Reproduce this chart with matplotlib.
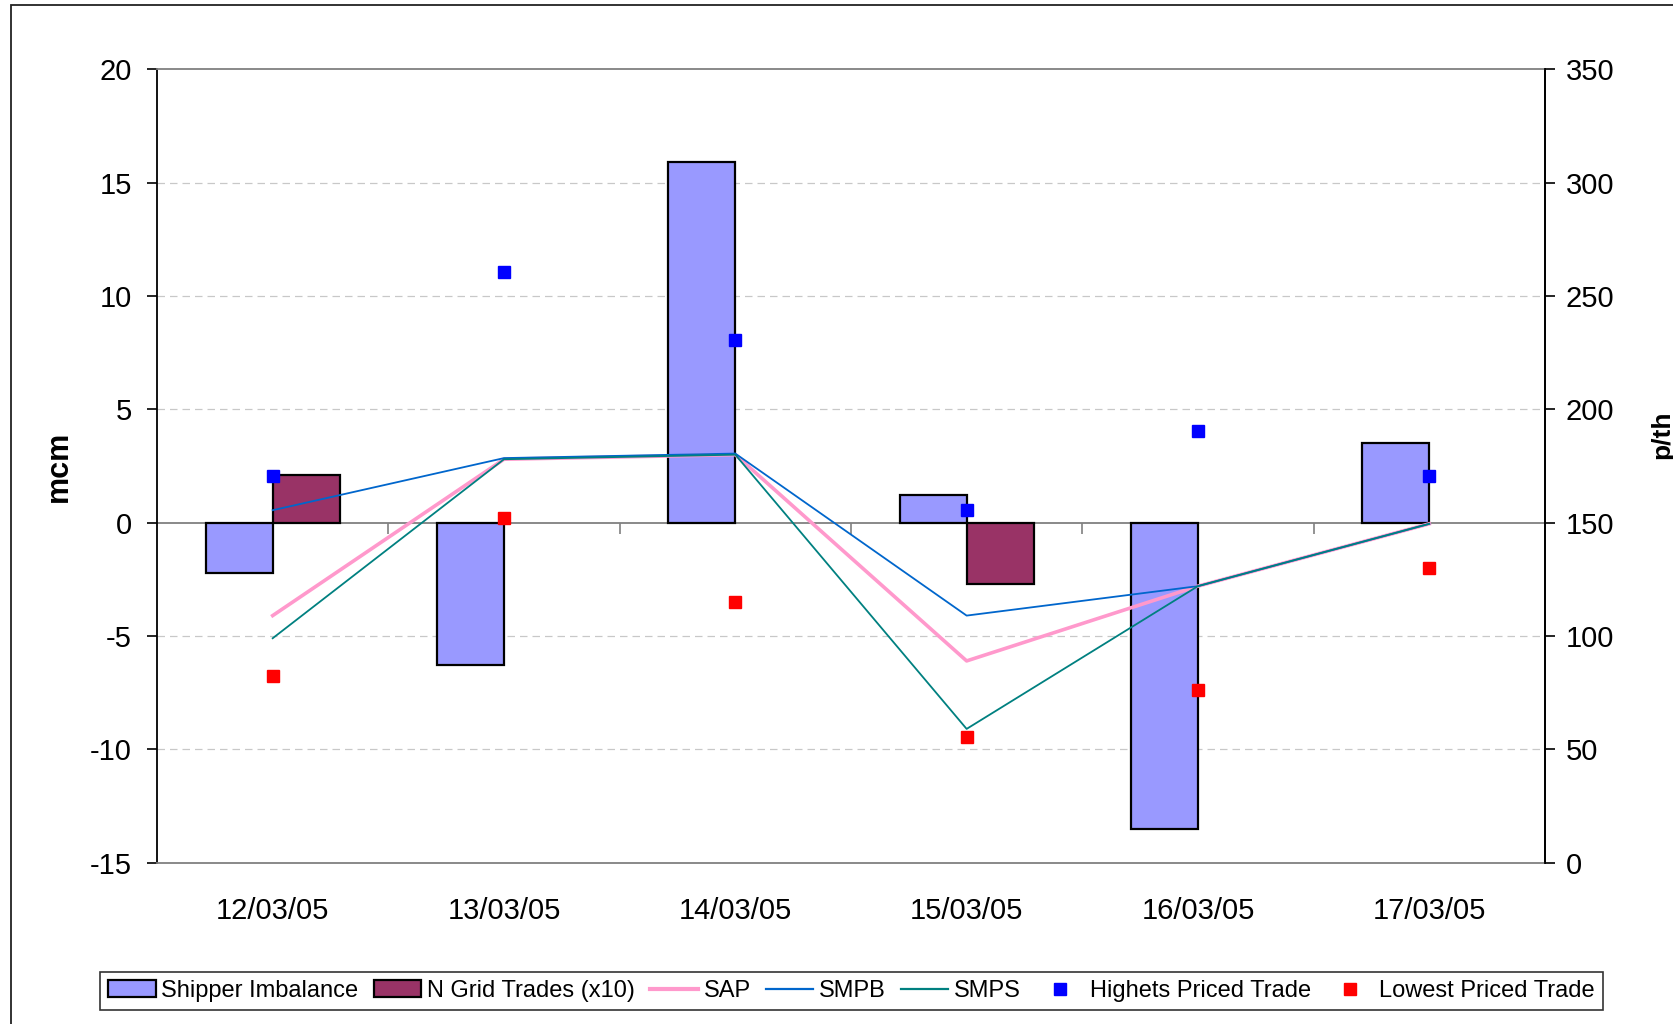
import matplotlib
matplotlib.use("Agg")
import matplotlib.pyplot as plt
from matplotlib.patches import Patch, Rectangle
from matplotlib.lines import Line2D

plt.rcParams['font.family'] = ['Liberation Sans', 'DejaVu Sans']
plt.rcParams['axes.unicode_minus'] = False

# data
dates = ['12/03/05', '13/03/05', '14/03/05', '15/03/05', '16/03/05', '17/03/05']
shipper_imbalance = [-2.2, -6.3, 15.9, 1.2, -13.5, 3.5]      # mcm
n_grid_trades = [2.1, 0, 0, -2.7, 0, 0]                      # mcm (x10)
sap = [109, 178, 180, 89, 122, 149.5]                        # p/th
smpb = [155.5, 178.5, 180.5, 109, 122, 149.5]
smps = [99, 178, 180, 59, 122, 149.5]
highest_trade = [170.5, 260.5, 230.5, 155.5, 190.5, 170.5]
lowest_trade = [82.5, 152, 115, 55.5, 76, 130]

bar_color = '#9999FF'
grid_color = '#993366'
sap_color = '#FF99CC'
smpb_color = '#0066CC'
smps_color = '#008080'

fig = plt.figure(figsize=(16.74, 10.24), dpi=100)
ax = fig.add_axes([0.0938, 0.1576, 0.8291, 0.7746])

x = list(range(len(dates)))
w = 0.29
ax.bar([i - w / 2 for i in x], shipper_imbalance, width=w, color=bar_color,
       edgecolor='black', linewidth=1.6, zorder=3)
# empty days get no bar outline
ax.bar([i + w / 2 for i in x], n_grid_trades, width=w, color=grid_color,
       edgecolor=['black' if v else 'none' for v in n_grid_trades],
       linewidth=1.6, zorder=3)

ax.set_xlim(-0.5, len(dates) - 0.5)
ax.set_ylim(-15, 20)
ax.set_yticks(range(-15, 21, 5))
for v in [-10, -5, 5, 10, 15]:
    ax.axhline(v, color='#C8C8C8', linestyle=(0, (6, 4)), linewidth=0.9, zorder=1)
ax.axhline(0, color='#808080', linewidth=1.3, zorder=2)

ax.set_xticks(x)
ax.set_xticklabels(dates)
ax.tick_params(axis='x', length=0, pad=25, labelsize=21)
ax.tick_params(axis='y', direction='out', length=7, width=1.2, pad=11, labelsize=21)
ax.spines['top'].set_color('#808080')
ax.spines['bottom'].set_color('#808080')
ax.spines['left'].set_color('black')
ax.spines['right'].set_color('black')
for s in ax.spines.values():
    s.set_linewidth(1.3)
ax.set_ylabel('mcm', fontsize=22, fontweight='bold')
ax.yaxis.set_label_coords(-0.060, 0.5)

# category boundary ticks sitting on the zero line
sec = ax.secondary_xaxis(15 / 35)
sec.set_xticks([i + 0.5 for i in x[:-1]])
sec.set_xticklabels([])
sec.tick_params(axis='x', direction='out', length=8, width=1.2, color='#808080')
sec.spines['bottom'].set_visible(False)

ax2 = ax.twinx()
ax2.set_ylim(0, 350)
ax2.set_yticks(range(0, 351, 50))
ax2.plot(x, sap, color=sap_color, linewidth=2.6, zorder=3)
ax2.plot(x, smpb, color=smpb_color, linewidth=1.3, zorder=4)
ax2.plot(x, smps, color=smps_color, linewidth=1.3, zorder=5)
ax2.plot(x, highest_trade, linestyle='none', marker='s', markersize=9,
         color='#0000FF', zorder=6)
ax2.plot(x, lowest_trade, linestyle='none', marker='s', markersize=9,
         color='#FF0000', zorder=6)
ax2.tick_params(axis='y', direction='out', length=7, width=1.2, pad=8, labelsize=21)
ax2.spines['right'].set_color('black')
ax2.spines['right'].set_linewidth(1.3)
for k in ['top', 'bottom', 'left']:
    ax2.spines[k].set_visible(False)
ax2.set_ylabel('p/th', fontsize=19, fontweight='bold')
ax2.yaxis.set_label_coords(1.076, 0.54)

# legend across the bottom
handles = [
    Patch(facecolor=bar_color, edgecolor='black', linewidth=1.6),
    Patch(facecolor=grid_color, edgecolor='black', linewidth=1.6),
    Line2D([], [], color=sap_color, linewidth=3),
    Line2D([], [], color=smpb_color, linewidth=1.6),
    Line2D([], [], color=smps_color, linewidth=1.6),
    Line2D([], [], linestyle='none', marker='s', markersize=9, color='#0000FF'),
    Line2D([], [], linestyle='none', marker='s', markersize=9, color='#FF0000'),
]
labels = ['Shipper Imbalance', 'N Grid Trades (x10)', 'SAP', 'SMPB', 'SMPS',
          'Highets Priced Trade', 'Lowest Priced Trade']
leg = fig.legend(handles, labels, loc='center', bbox_to_anchor=(0.5087, 0.0322),
                 ncol=7, fontsize=17, frameon=True, fancybox=False,
                 handlelength=2.0, handletextpad=0.25, columnspacing=0.65,
                 borderpad=0.35)
leg.get_frame().set_edgecolor('black')
leg.get_frame().set_linewidth(1.2)

# outer chart-area border (cut off at right and bottom)
fig.patches.append(Rectangle((0.0064, -0.1), 1.2, 0.9948 + 0.1,
                             transform=fig.transFigure, fill=False,
                             edgecolor='#222222', linewidth=1.3))

fig.savefig('out.png', dpi=100)
